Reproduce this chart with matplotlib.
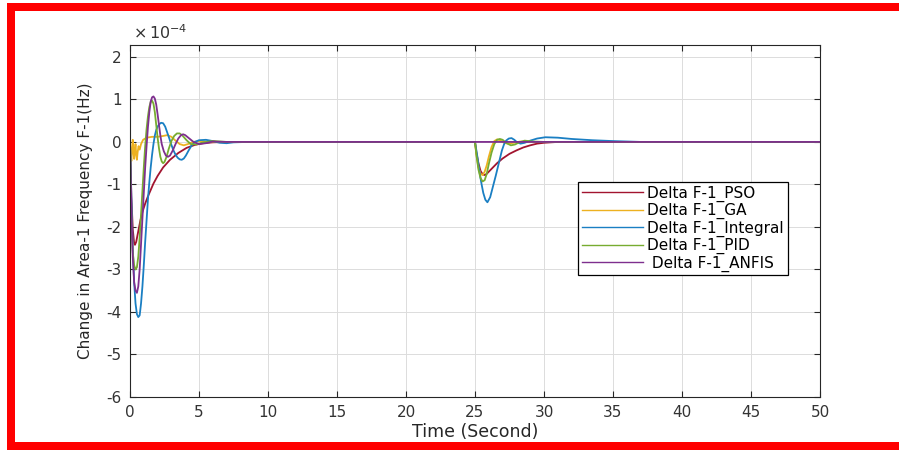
import matplotlib
matplotlib.use("Agg")
import matplotlib.pyplot as plt
from matplotlib.patches import Rectangle

plt.rcParams['font.family'] = ['DejaVu Sans']
plt.rcParams['mathtext.fontset'] = 'dejavusans'
plt.rcParams['axes.unicode_minus'] = False

# Frequency deviation of area 1 (units of 1e-4 Hz) for each controller
t_pso = [0, 0.05, 0.1, 0.2, 0.3, 0.36, 0.45, 0.6, 0.75, 0.9, 1.1, 1.3, 1.5, 1.7, 2.0, 2.4,
         2.9, 3.5, 4.1, 4.7, 5.3, 6.0, 7.0, 25.0, 25.1, 25.25, 25.4, 25.55, 25.7, 25.85,
         26.0, 26.3, 26.6, 27.0, 27.5, 28.0, 28.5, 29.0, 29.5, 30.0, 31.0, 50.0]
f_pso = [0, -0.7, -1.3, -2.05, -2.38, -2.42, -2.35, -2.1, -1.85, -1.65, -1.45, -1.28, -1.13,
         -0.98, -0.8, -0.6, -0.42, -0.26, -0.14, -0.07, -0.03, -0.01, 0, 0, -0.25, -0.5,
         -0.68, -0.76, -0.78, -0.75, -0.7, -0.6, -0.5, -0.39, -0.28, -0.2, -0.13, -0.08,
         -0.04, -0.02, 0, 0]

t_ga = [0, 0.05, 0.1, 0.15, 0.2, 0.25, 0.3, 0.35, 0.4, 0.45, 0.5, 0.55, 0.62, 0.7, 0.8,
        0.95, 1.2, 1.6, 2.0, 2.4, 2.7, 3.0, 3.3, 3.6, 3.9, 4.2, 4.6, 5.0, 5.5, 6.5, 25.0,
        25.1, 25.25, 25.4, 25.55, 25.7, 25.85, 26.0, 26.2, 26.4, 26.6, 26.8, 27.1, 27.4,
        27.8, 28.3, 29.0, 50.0]
f_ga = [0, -0.3, -0.45, -0.15, 0.05, -0.25, -0.4, -0.2, -0.05, -0.3, -0.42, -0.25, -0.1,
        -0.18, -0.05, 0.05, 0.1, 0.12, 0.12, 0.14, 0.16, 0.12, 0.03, -0.05, -0.08, -0.05,
        0, 0.02, 0.01, 0, 0, -0.3, -0.6, -0.75, -0.78, -0.7, -0.55, -0.35, -0.12, 0.02,
        0.06, 0.04, -0.02, -0.04, -0.02, 0.01, 0, 0]

t_int = [0, 0.05, 0.1, 0.2, 0.3, 0.4, 0.5, 0.6, 0.7, 0.8, 0.9, 1.0, 1.1, 1.2, 1.3, 1.4,
         1.5, 1.6, 1.7, 1.8, 1.9, 2.0, 2.1, 2.25, 2.4, 2.55, 2.7, 2.85, 3.0, 3.15, 3.3,
         3.45, 3.6, 3.75, 3.9, 4.05, 4.25, 4.45, 4.7, 5.0, 5.5, 6.0, 6.5, 7.0, 7.5, 8.5,
         25.0, 25.15, 25.3, 25.45, 25.6, 25.75, 25.9, 26.1, 26.3, 26.5, 26.65, 26.8, 26.95,
         27.1, 27.25, 27.45, 27.65, 27.85, 28.05, 28.3, 28.6, 29.0, 29.5, 30.1, 31.0, 32.0,
         33.5, 35.0, 37.0, 50.0]
f_int = [0, -0.6, -1.3, -2.5, -3.3, -3.8, -4.05, -4.12, -4.08, -3.8, -3.4, -2.9, -2.35,
         -1.85, -1.35, -0.95, -0.6, -0.3, -0.05, 0.15, 0.28, 0.36, 0.41, 0.45, 0.44, 0.36,
         0.22, 0.08, -0.07, -0.2, -0.3, -0.37, -0.41, -0.42, -0.39, -0.32, -0.2, -0.09, 0,
         0.04, 0.05, 0.02, -0.02, -0.03, -0.01, 0, 0, -0.3, -0.65, -0.95, -1.2, -1.36,
         -1.42, -1.3, -1.05, -0.8, -0.6, -0.4, -0.2, -0.06, 0.03, 0.08, 0.09, 0.05, -0.01,
         -0.04, -0.02, 0.03, 0.08, 0.11, 0.1, 0.07, 0.04, 0.02, 0, 0]

t_pid = [0, 0.05, 0.1, 0.2, 0.3, 0.4, 0.5, 0.6, 0.7, 0.8, 0.9, 1.0, 1.1, 1.2, 1.3, 1.4,
         1.5, 1.6, 1.7, 1.8, 1.9, 2.0, 2.1, 2.2, 2.3, 2.4, 2.5, 2.65, 2.8, 3.0, 3.2, 3.4,
         3.6, 3.8, 4.1, 4.4, 4.8, 5.3, 6.0, 7.0, 25.0, 25.1, 25.25, 25.4, 25.55, 25.7,
         25.85, 26.0, 26.2, 26.4, 26.6, 26.8, 27.0, 27.3, 27.6, 27.9, 28.2, 28.6, 29.2,
         30.0, 50.0]
f_pid = [0, -0.9, -1.7, -2.6, -2.9, -3.0, -2.95, -2.7, -2.25, -1.7, -1.15, -0.6, -0.1,
         0.3, 0.6, 0.82, 0.94, 0.97, 0.9, 0.7, 0.4, 0.1, -0.15, -0.35, -0.46, -0.5, -0.47,
         -0.35, -0.17, 0.02, 0.14, 0.2, 0.2, 0.15, 0.04, -0.05, -0.06, -0.01, 0.02, 0, 0,
         -0.3, -0.65, -0.85, -0.93, -0.9, -0.75, -0.52, -0.25, -0.05, 0.05, 0.07, 0.05,
         -0.03, -0.08, -0.06, -0.01, 0.03, 0.01, 0, 0]

t_anfis = [0, 0.05, 0.1, 0.2, 0.3, 0.4, 0.5, 0.6, 0.7, 0.8, 0.9, 1.0, 1.1, 1.2, 1.3, 1.4,
           1.5, 1.6, 1.7, 1.8, 1.9, 2.0, 2.1, 2.2, 2.3, 2.45, 2.6, 2.75, 2.9, 3.1, 3.3,
           3.5, 3.7, 3.85, 4.0, 4.3, 4.6, 5.0, 5.5, 6.0, 7.0, 50.0]
f_anfis = [0, -0.8, -1.6, -2.7, -3.3, -3.5, -3.55, -3.4, -3.0, -2.4, -1.8, -1.2, -0.6,
           -0.1, 0.35, 0.7, 0.95, 1.05, 1.07, 1.02, 0.88, 0.65, 0.4, 0.15, -0.05, -0.22,
           -0.32, -0.35, -0.32, -0.2, -0.05, 0.08, 0.16, 0.18, 0.16, 0.08, 0, -0.05, -0.03,
           0.01, 0, 0]

series = [
    ("Delta F-1_PSO", t_pso, f_pso, "#A2142F"),
    ("Delta F-1_GA", t_ga, f_ga, "#EDB120"),
    ("Delta F-1_Integral", t_int, f_int, "#1A7FC3"),
    ("Delta F-1_PID", t_pid, f_pid, "#77AC30"),
    (" Delta F-1_ANFIS", t_anfis, f_anfis, "#7E2F8E"),
]

fig = plt.figure(figsize=(8.99, 4.5), dpi=100)
ax = fig.add_axes([130 / 899, 1 - 397 / 450, 690 / 899, 352 / 450])

for label, t, f, color in series:
    ax.plot(t, f, color=color, lw=1.3, label=label)

ax.set_xlim(0, 50)
ax.set_ylim(-6, 2.28)
ax.set_xticks(range(0, 51, 5))
ax.set_yticks(range(-6, 3))
ax.grid(True, color="#dcdcdc", lw=0.7)
ax.set_axisbelow(True)
ax.tick_params(direction="in", top=True, right=True, length=4, width=0.8,
               labelsize=11, colors="#262626", labelcolor="#333333", pad=6)
for sp in ax.spines.values():
    sp.set_color("#262626")
    sp.set_linewidth(0.8)

ax.set_xlabel("Time (Second)", fontsize=12.5, color="#262626", labelpad=2)
ax.set_ylabel("Change in Area-1 Frequency F-1(Hz)", fontsize=11, color="#262626",
              labelpad=10)
ax.text(0.005, 1.008, r"$\times\,10^{-4}$", transform=ax.transAxes, fontsize=11.5,
        color="#333333", ha="left", va="bottom")

leg = ax.legend(loc="upper left", bbox_to_anchor=(0.649, 0.611), fontsize=11,
                frameon=True, fancybox=False, edgecolor="black", framealpha=1,
                handlelength=4.0, handletextpad=0.3, labelspacing=0.08,
                borderpad=0.25, borderaxespad=0)
leg.get_frame().set_linewidth(0.9)
for h in leg.get_lines():
    h.set_linewidth(1.0)

# red border around the figure (top, left, bottom)
W, H = 899.0, 450.0
red = "#FF0000"
fig.add_artist(Rectangle((7 / W, 1 - 11 / H), 1 - 7 / W, 8 / H, transform=fig.transFigure,
                         color=red, lw=0))
fig.add_artist(Rectangle((7 / W, 0), 8 / W, 1 - 3 / H, transform=fig.transFigure,
                         color=red, lw=0))
fig.add_artist(Rectangle((7 / W, 0), 1 - 7 / W, 8 / H, transform=fig.transFigure,
                         color=red, lw=0))

fig.savefig("out.png", dpi=100)
